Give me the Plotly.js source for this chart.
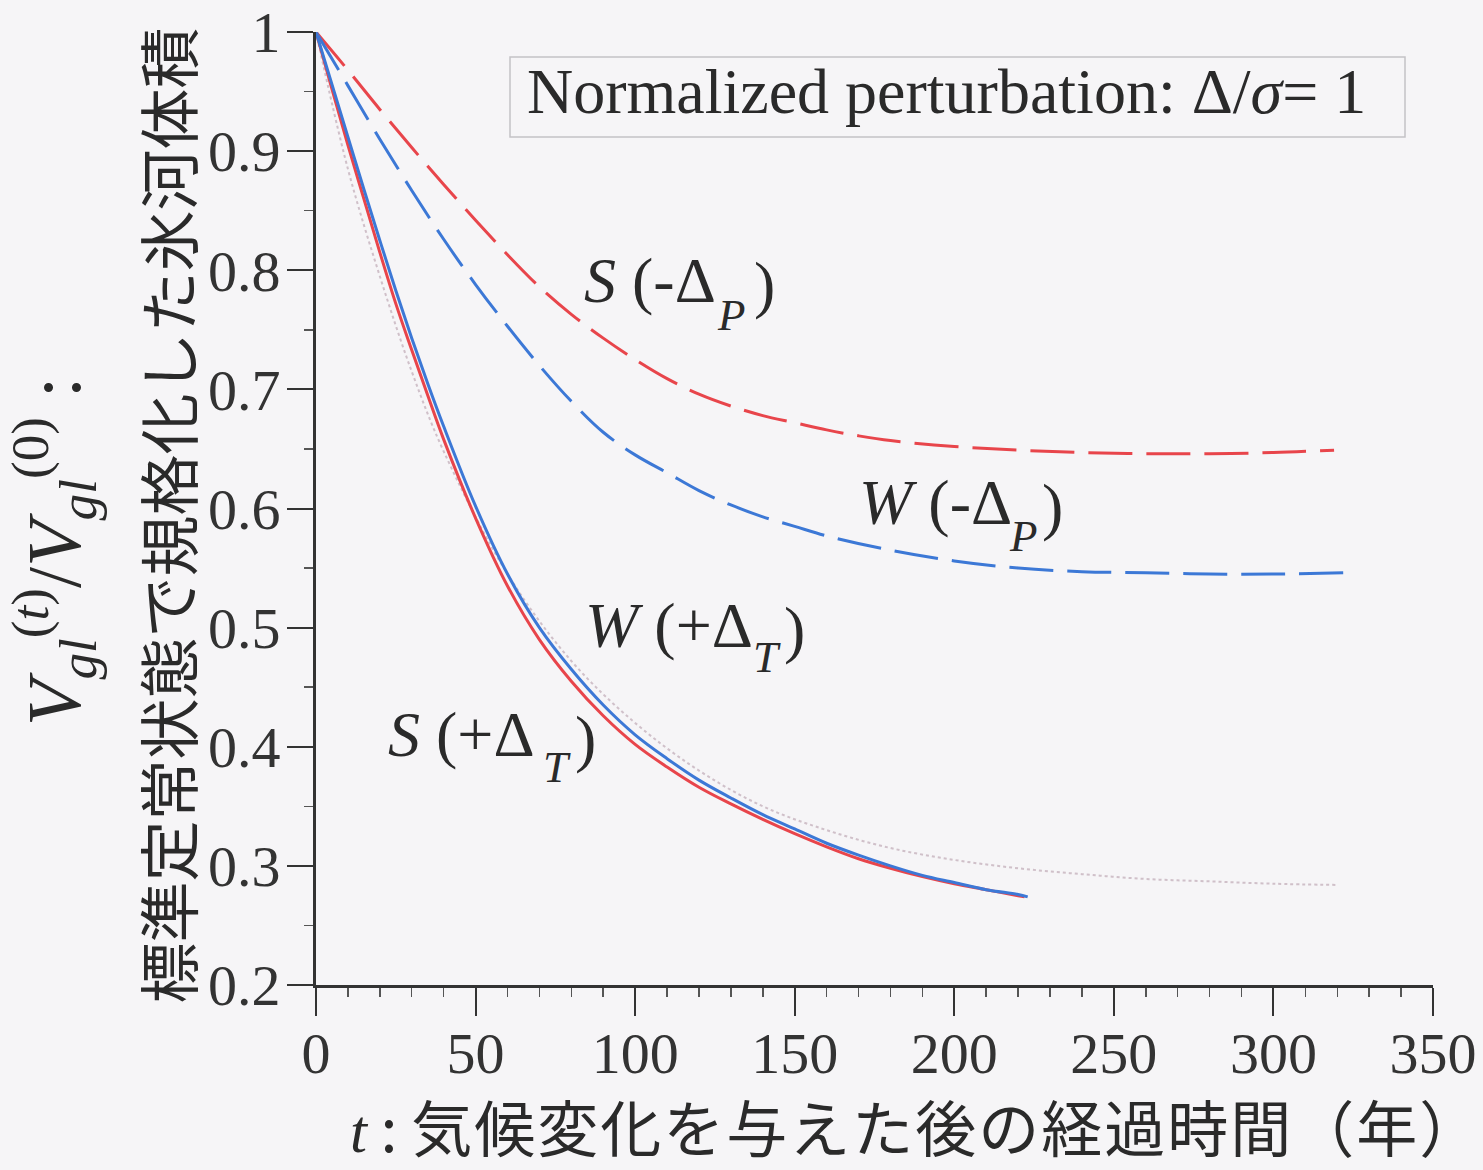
<!DOCTYPE html>
<html>
<head>
<meta charset="utf-8">
<script src="https://cdn.plot.ly/plotly-3.0.1.min.js"></script>
<style>html,body{margin:0;padding:0;background:#f6f5f7;}#chart{width:1483px;height:1170px;}</style>
</head>
<body>
<div id="chart"></div>
<script>
// Years after climate change
const tSolidS = [0,5,10,15,20,25,30,35,40,50,60,70,80,90,100,110,120,130,140,150,160,170,180,190,200,210,220,222];
const vSolidS = [1,0.952,0.905,0.86,0.815,0.772,0.733,0.695,0.658,0.592,0.535,0.49,0.455,0.426,0.402,0.383,0.366,0.352,0.339,0.327,0.316,0.306,0.298,0.291,0.285,0.28,0.275,0.274];

const tSolidW = [0,5,10,15,20,25,30,35,40,50,60,70,80,90,100,110,120,130,140,150,160,170,180,190,200,210,220,223];
const vSolidW = [1,0.956,0.912,0.868,0.825,0.783,0.743,0.705,0.669,0.602,0.545,0.5,0.465,0.435,0.41,0.39,0.372,0.357,0.343,0.331,0.319,0.309,0.3,0.292,0.286,0.28,0.276,0.274];

const tDashS = [0,10,20,30,40,50,60,70,80,90,100,110,120,130,140,150,160,170,180,200,220,240,260,280,300,319];
const vDashS = [1,0.968,0.935,0.903,0.872,0.842,0.813,0.786,0.763,0.743,0.725,0.709,0.696,0.686,0.678,0.672,0.666,0.661,0.657,0.652,0.649,0.647,0.646,0.646,0.647,0.649];

const tDashW = [0,10,20,30,40,50,60,70,80,90,100,110,120,130,140,150,160,180,200,220,240,260,280,300,322];
const vDashW = [1,0.955,0.91,0.867,0.826,0.788,0.753,0.72,0.69,0.664,0.645,0.63,0.615,0.603,0.593,0.585,0.577,0.565,0.556,0.55,0.547,0.546,0.545,0.545,0.546];

const tDot = [0,10,20,30,40,60,80,100,120,140,160,180,200,220,240,260,280,300,320];
const vDot = [1,0.885,0.795,0.715,0.648,0.545,0.472,0.42,0.38,0.35,0.33,0.315,0.305,0.298,0.293,0.289,0.287,0.285,0.284];

const yTickVals = [0.2,0.3,0.4,0.5,0.6,0.7,0.8,0.9,1];
const yTickText = ['0.2','0.3','0.4','0.5','0.6','0.7','0.8','0.9','1'];
const xTickVals = [0,50,100,150,200,250,300,350];
const xTickText = ['0','50','100','150','200','250','300','350'];

// Curve labels: [main text, subscript letter]
const curveLabels = [
  ['<i>S</i> (-Δ', 'P'],
  ['<i>W</i> (-Δ', 'P'],
  ['<i>W</i> (+Δ', 'T'],
  ['<i>S</i> (+Δ', 'T']
];

const RED = '#e8454b';
const BLUE = '#3c78d6';
const BG = '#f6f5f7';
const TXT = '#2a2a2a';
const serif = 'Liberation Serif, Times New Roman, serif';
const cjk = 'Noto Sans CJK JP, sans-serif';

const traces = [
  {x: tDot, y: vDot, mode: 'lines', line: {color: 'rgba(170,140,155,0.5)', width: 2, dash: 'dot', shape: 'spline'}, hoverinfo: 'skip'},
  {x: tDashS, y: vDashS, mode: 'lines', line: {color: RED, width: 3, dash: '44px,14px', shape: 'spline'}},
  {x: tDashW, y: vDashW, mode: 'lines', line: {color: BLUE, width: 3, dash: '44px,14px', shape: 'spline'}},
  {x: tSolidS, y: vSolidS, mode: 'lines', line: {color: RED, width: 3, shape: 'spline'}},
  {x: tSolidW, y: vSolidW, mode: 'lines', line: {color: BLUE, width: 3, shape: 'spline'}}
];

// pixel helpers for placing label pieces (plot area: x 316..1433, y 32..985)
const px2x = p => (p - 316) / (1117 / 350);
const py2y = p => 1 - (p - 32) / (953 / 0.8);

// label piece positions in pixels: [mainLeft, capCenter, subLeft, subCenter, parenLeft]
const labelPos = [
  [582, 280, 715, 315, 752],
  [857, 502, 1007, 536, 1040],
  [583, 625, 751, 657, 782],
  [386, 734, 541, 767, 573]
];

const annotations = [];
curveLabels.forEach((lab, i) => {
  const p = labelPos[i];
  annotations.push({xref: 'x', yref: 'y', x: px2x(p[0]), y: py2y(p[1]), xanchor: 'left', yanchor: 'middle', showarrow: false,
    text: lab[0], font: {family: serif, size: 64, color: TXT}});
  annotations.push({xref: 'x', yref: 'y', x: px2x(p[2]), y: py2y(p[3]), xanchor: 'left', yanchor: 'middle', showarrow: false,
    text: '<i>' + lab[1] + '</i>', font: {family: serif, size: 45, color: TXT}});
  annotations.push({xref: 'x', yref: 'y', x: px2x(p[4]), y: py2y(p[1] + 4), xanchor: 'left', yanchor: 'middle', showarrow: false,
    text: ')', font: {family: serif, size: 64, color: TXT}});
});

annotations.push(
  {xref: 'x', yref: 'y', x: px2x(525), y: py2y(91), xanchor: 'left', yanchor: 'middle', showarrow: false,
   text: 'Normalized perturbation: Δ/<i>σ</i>= 1', font: {family: serif, size: 64, color: TXT}},
  {xref: 'paper', yref: 'paper', x: -0.234, y: 0.455, xanchor: 'center', yanchor: 'middle', showarrow: false, textangle: -90,
   text: '<i>V</i><sub><i>gl</i></sub><sup>(<i>t</i>)</sup>/<i>V</i><sub><i>gl</i></sub><sup>(0)</sup> :', font: {family: serif, size: 76, color: TXT}},
  {xref: 'paper', yref: 'paper', x: -0.134, y: 0.493, xanchor: 'center', yanchor: 'middle', showarrow: false, textangle: -90,
   text: '標準定常状態で規格化した氷河体積', font: {family: cjk, size: 61, color: TXT}},
  {xref: 'paper', yref: 'paper', x: 0.537, y: -0.1479, xanchor: 'center', yanchor: 'middle', showarrow: false,
   text: '<i style="font-family:Liberation Serif">t</i> : <span style="letter-spacing:2px">気候変化を与えた後の経過時間（年）</span>', font: {family: cjk, size: 61, color: TXT}}
);

const layout = {
  width: 1483, height: 1170,
  paper_bgcolor: BG, plot_bgcolor: BG,
  margin: {l: 316, r: 50, t: 32, b: 185},
  showlegend: false,
  xaxis: {
    range: [0, 350], showgrid: false, zeroline: false,
    showline: true, linecolor: '#333', linewidth: 3,
    ticks: 'outside', ticklen: 28, tickwidth: 2, tickcolor: '#333',
    tickvals: xTickVals, ticktext: xTickText,
    tickfont: {family: serif, size: 58, color: '#333'},
    ticklabelstandoff: -13,
    minor: {dtick: 10, ticks: 'outside', ticklen: 9, tickwidth: 1.5, tickcolor: '#555', showgrid: false}
  },
  yaxis: {
    range: [0.2, 1], showgrid: false, zeroline: false,
    showline: true, linecolor: '#333', linewidth: 3,
    ticks: 'outside', ticklen: 26, tickwidth: 2, tickcolor: '#333',
    tickvals: yTickVals, ticktext: yTickText,
    tickfont: {family: serif, size: 58, color: '#333'},
    ticklabelstandoff: -5,
    minor: {dtick: 0.05, ticks: 'outside', ticklen: 9, tickwidth: 1.5, tickcolor: '#555', showgrid: false}
  },
  shapes: [
    {type: 'rect', xref: 'x', yref: 'y', x0: px2x(510), x1: px2x(1405), y0: py2y(137), y1: py2y(57),
     line: {color: '#c4c2c6', width: 1.5}, fillcolor: BG, layer: 'below'}
  ],
  annotations: annotations
};

Plotly.newPlot('chart', traces, layout, {displayModeBar: false, staticPlot: true});
</script>
</body>
</html>
